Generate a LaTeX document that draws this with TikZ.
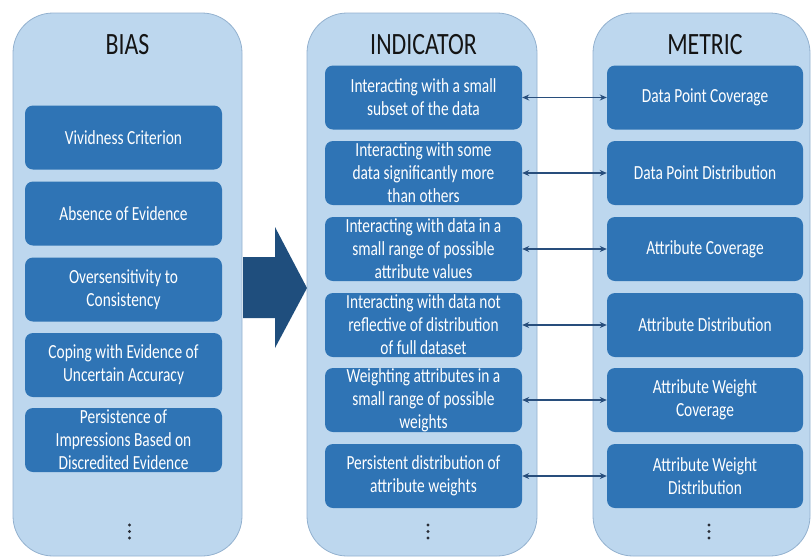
\documentclass[tikz,border=0pt]{standalone}
\usepackage{fontspec}
\setmainfont{Carlito}[FakeStretch=0.77]
\usetikzlibrary{arrows.meta}

\definecolor{panelfill}{HTML}{BDD7EE}
\definecolor{paneledge}{HTML}{93B1CF}
\definecolor{boxfill}{HTML}{2F74B5}
\definecolor{bigarrow}{HTML}{1F4E7D}
\definecolor{linkcol}{HTML}{284E7C}
\definecolor{dotcol}{HTML}{2A2E36}

\tikzset{
  panel/.style={draw=paneledge, line width=0.8pt, fill=panelfill, rounded corners=40pt,
    minimum height=543pt, inner sep=0pt},
  title/.style={font=\fontsize{31}{32}\selectfont, text=black!92},
  itembox/.style={fill=boxfill, rounded corners=8pt, minimum width=197pt, minimum height=64pt,
    inner sep=0pt, align=center, text=white, font=\fontsize{20}{23}\selectfont},
  link/.style={{Stealth[length=7pt,width=6pt]}-{Stealth[length=7pt,width=6pt]}, draw=linkcol, line width=1.4pt}
}

\begin{document}
\begin{tikzpicture}[x=1pt,y=-1pt]
\useasboundingbox (0,0) rectangle (812,558);

% columns
\node[panel, minimum width=229pt] (biaspanel) at (127.5,284.5) {};
\node[panel, minimum width=230pt] (indpanel) at (422,284.5) {};
\node[panel, minimum width=217pt] (metpanel) at (701.5,284.5) {};

\node[title] (biastitle) at (127.5,45) {BIAS};
\node[title] (indtitle) at (423.5,45) {INDICATOR};
\node[title] (mettitle) at (705,45) {METRIC};

% bias list
\node[itembox] (bias1) at (123.5,137.5) {Vividness Criterion};
\node[itembox] (bias2) at (123.5,213.5) {Absence of Evidence};
\node[itembox] (bias3) at (123.5,289.5) {Oversensitivity to\\Consistency};
\node[itembox] (bias4) at (123.5,365) {Coping with Evidence of\\Uncertain Accuracy};
\node[itembox] (bias5) at (123.5,440) {Persistence of\\Impressions Based on\\Discredited Evidence};
\coordinate (biasmore) at (129.5,531.5);

% big arrow
\fill[bigarrow] (243,257) -- (275,257) -- (275,227) -- (307,288) -- (275,348) -- (275,318) -- (243,318) -- cycle;

% indicator list
\node[itembox] (ind1) at (423.5,97.5) {Interacting with a small\\subset of the data};
\node[itembox] (ind2) at (423.5,173) {Interacting with some\\data significantly more\\than others};
\node[itembox] (ind3) at (423.5,249) {Interacting with data in a\\small range of possible\\attribute values};
\node[itembox] (ind4) at (423.5,325) {Interacting with data not\\reflective of distribution\\of full dataset};
\node[itembox] (ind5) at (423.5,400) {Weighting attributes in a\\small range of possible\\weights};
\node[itembox] (ind6) at (423.5,476) {Persistent distribution of\\attribute weights};
\coordinate (indmore) at (428,531.5);

% metric list
\node[itembox, minimum width=196pt] (met1) at (705,97.5) {Data Point Coverage};
\node[itembox, minimum width=196pt] (met2) at (705,173) {Data Point Distribution};
\node[itembox, minimum width=196pt] (met3) at (705,249) {Attribute Coverage};
\node[itembox, minimum width=196pt] (met4) at (705,325) {Attribute Distribution};
\node[itembox, minimum width=196pt] (met5) at (705,400) {Attribute Weight\\Coverage};
\node[itembox, minimum width=196pt] (met6) at (705,476) {Attribute Weight\\Distribution};
\coordinate (metmore) at (709,531.5);

% dots for the rest of each list
\fill[dotcol] (biasmore) ++(0,-6.5) circle (1.7pt) (biasmore) circle (1.7pt) (biasmore) ++(0,6.5) circle (1.7pt);
\fill[dotcol] (indmore) ++(0,-6.5) circle (1.7pt) (indmore) circle (1.7pt) (indmore) ++(0,6.5) circle (1.7pt);
\fill[dotcol] (metmore) ++(0,-6.5) circle (1.7pt) (metmore) circle (1.7pt) (metmore) ++(0,6.5) circle (1.7pt);

% links
\draw[link] (ind1.east) -- (met1.west);
\draw[link] (ind2.east) -- (met2.west);
\draw[link] (ind3.east) -- (met3.west);
\draw[link] (ind4.east) -- (met4.west);
\draw[link] (ind5.east) -- (met5.west);
\draw[link] (ind6.east) -- (met6.west);
\end{tikzpicture}
\end{document}
